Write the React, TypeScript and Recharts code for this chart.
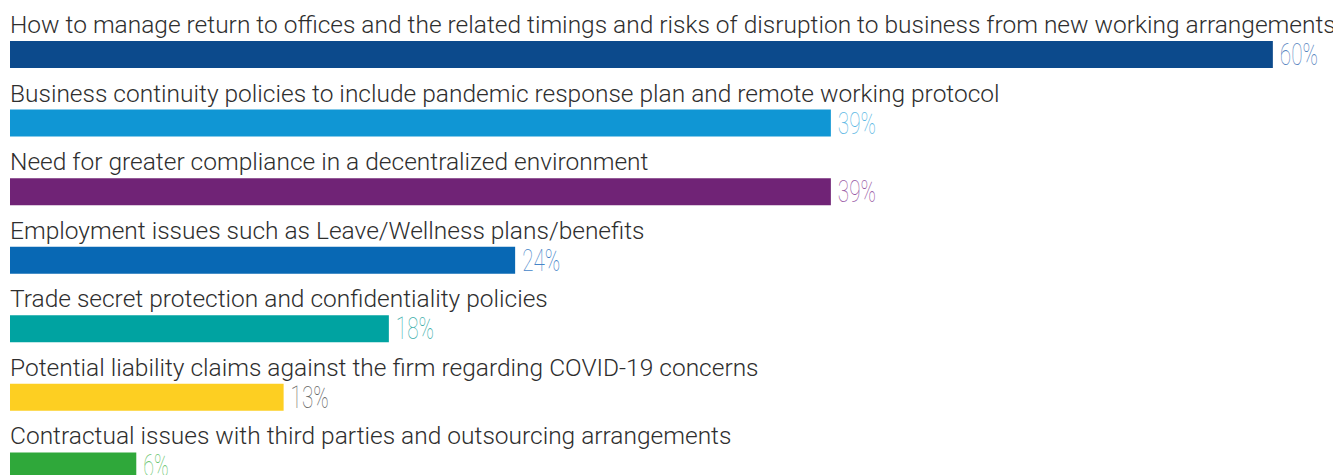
import { BarChart, Bar, XAxis, YAxis, Cell, LabelList } from "recharts";

const categories = [
  "How to manage return to offices and the related timings and risks of disruption to business from new working arrangements",
  "Business continuity policies to include pandemic response plan and remote working protocol",
  "Need for greater compliance in a decentralized environment",
  "Employment issues such as Leave/Wellness plans/benefits",
  "Trade secret protection and confidentiality policies",
  "Potential liability claims against the firm regarding COVID-19 concerns",
  "Contractual issues with third parties and outsourcing arrangements",
];
const values = [60, 39, 39, 24, 18, 13, 6];
const barColors = ["#0c4a8c", "#1096d4", "#702376", "#0868b4", "#00a3a1", "#fdcf22", "#2fa83a"];
const labelColors = ["#5482be", "#5cb8e4", "#9a5ca6", "#4585c8", "#42afab", "#666666", "#6cc671"];

const data = categories.map((name, i) => ({ name, value: values[i] }));

const NameLabel = (props: any) => {
  const { x, y, value } = props;
  return (
    <text
      x={x}
      y={y - 8}
      fontSize={24.5}
      fontWeight={300}
      fontFamily="Roboto, sans-serif"
      fill="#2e2e2e"
    >
      {value}
    </text>
  );
};

const PctLabel = (props: any) => {
  const { x, y, width, height, value, index } = props;
  const txt = `${value}%`;
  return (
    <text
      x={x + width + 7}
      y={y + height / 2 + 10.5}
      fontSize={31}
      fontWeight={100}
      fontFamily="Roboto, sans-serif"
      fill={labelColors[index]}
      textLength={txt.length * 12.7}
      lengthAdjust="spacingAndGlyphs"
    >
      {txt}
    </text>
  );
};

export default function App() {
  return (
    <div style={{ width: 1333, height: 492, fontFamily: "Roboto, sans-serif" }}>
      <BarChart
        width={1333}
        height={492}
        data={data}
        layout="vertical"
        margin={{ top: 12, right: 5, left: 2, bottom: 0 }}
        barSize={27}
      >
        <XAxis type="number" domain={[0, 63]} hide />
        <YAxis type="category" dataKey="name" hide width={0} />
        <Bar dataKey="value" isAnimationActive={false}>
          {data.map((_, i) => (
            <Cell key={i} fill={barColors[i]} />
          ))}
          <LabelList dataKey="name" content={<NameLabel />} />
          <LabelList dataKey="value" content={<PctLabel />} />
        </Bar>
      </BarChart>
    </div>
  );
}
